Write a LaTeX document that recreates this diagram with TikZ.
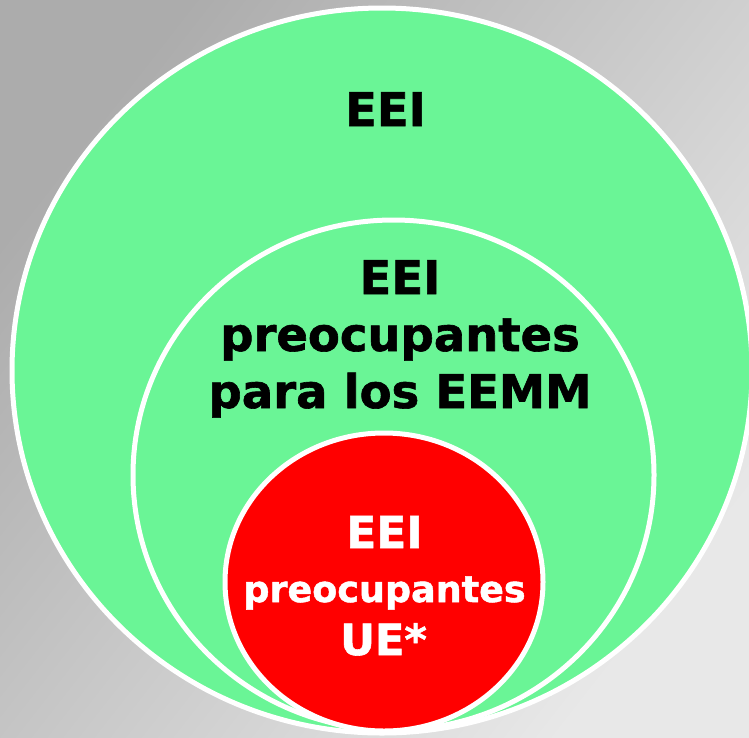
\documentclass[tikz,border=0pt]{standalone}
\usepackage{fontspec}
\setmainfont{DejaVu Sans}[BoldFeatures={FakeBold=1.3}]
\definecolor{eeigreen}{RGB}{106,245,150}
\definecolor{eeired}{RGB}{255,0,0}
\definecolor{bgdark}{RGB}{172,172,172}
\definecolor{bglight}{RGB}{232,232,232}

\begin{document}
\begin{tikzpicture}[x=1pt,y=-1pt]
        \tikzstyle{every node}=[font=\bfseries,align=center,anchor=base,inner sep=0pt]
        \tikzstyle{ring}=[draw=white,line width=5pt]
        \tikzstyle{big}=[font=\bfseries\fontsize{46.5}{57}\selectfont]
        \begin{scope}
           \clip (0,0) rectangle (749,737);
           \shade[left color=bgdark,right color=bglight,shading angle=52] (0,0) rectangle (749,737);

               \filldraw[ring,fill=eeigreen] (382,370.5) ellipse [x radius=370, y radius=362.5];
               \node[big] (eei) at (385.5,126) {EEI};

               \filldraw[ring,fill=eeigreen] (393.5,475) ellipse [x radius=260.5, y radius=255];
               \node[big] (eeimm) at (400,408) {EEI\\preocupantes\\para los EEMM};

               \filldraw[ring,fill=eeired] (384,582) ellipse [x radius=159, y radius=149];
               \node[white,font=\bfseries\fontsize{44}{54}\selectfont] (ue1) at (384.5,548) {EEI};
               \node[white,font=\bfseries\fontsize{36.5}{45}\selectfont] (ue2) at (384.5,602) {preocupantes};
               \node[white,font=\bfseries\fontsize{43}{52}\selectfont] (ue3) at (383.5,655) {UE*};
         \end{scope}
\end{tikzpicture}
\end{document}
